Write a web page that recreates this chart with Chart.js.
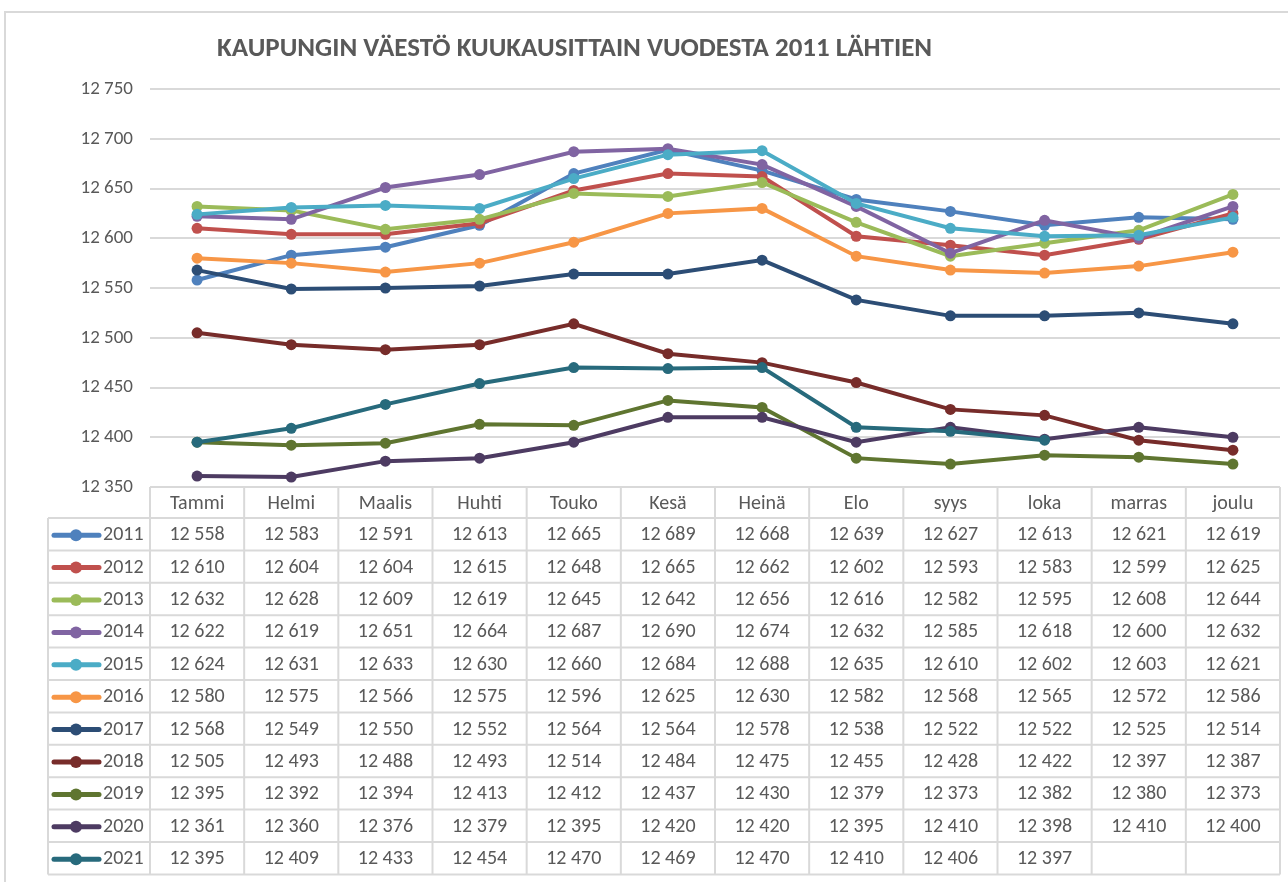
<!DOCTYPE html>
<html>
<head>
<meta charset="utf-8">
<script src="https://cdn.jsdelivr.net/npm/chart.js@4.4.1/dist/chart.umd.min.js"></script>
<style>
  html, body { margin: 0; padding: 0; background: #fff; }
  #wrap { width: 1288px; height: 882px; position: relative; }
</style>
</head>
<body>
<div id="wrap"><canvas id="myChart" width="1288" height="882"></canvas></div>
<script>
const months = ['Tammi', 'Helmi', 'Maalis', 'Huhti', 'Touko', 'Kesä', 'Heinä', 'Elo', 'syys', 'loka', 'marras', 'joulu'];
const years = ['2011', '2012', '2013', '2014', '2015', '2016', '2017', '2018', '2019', '2020', '2021'];
const y2011 = [12558, 12583, 12591, 12613, 12665, 12689, 12668, 12639, 12627, 12613, 12621, 12619];
const y2012 = [12610, 12604, 12604, 12615, 12648, 12665, 12662, 12602, 12593, 12583, 12599, 12625];
const y2013 = [12632, 12628, 12609, 12619, 12645, 12642, 12656, 12616, 12582, 12595, 12608, 12644];
const y2014 = [12622, 12619, 12651, 12664, 12687, 12690, 12674, 12632, 12585, 12618, 12600, 12632];
const y2015 = [12624, 12631, 12633, 12630, 12660, 12684, 12688, 12635, 12610, 12602, 12603, 12621];
const y2016 = [12580, 12575, 12566, 12575, 12596, 12625, 12630, 12582, 12568, 12565, 12572, 12586];
const y2017 = [12568, 12549, 12550, 12552, 12564, 12564, 12578, 12538, 12522, 12522, 12525, 12514];
const y2018 = [12505, 12493, 12488, 12493, 12514, 12484, 12475, 12455, 12428, 12422, 12397, 12387];
const y2019 = [12395, 12392, 12394, 12413, 12412, 12437, 12430, 12379, 12373, 12382, 12380, 12373];
const y2020 = [12361, 12360, 12376, 12379, 12395, 12420, 12420, 12395, 12410, 12398, 12410, 12400];
const y2021 = [12395, 12409, 12433, 12454, 12470, 12469, 12470, 12410, 12406, 12397, null, null];
const yTicks = [12350, 12400, 12450, 12500, 12550, 12600, 12650, 12700, 12750];
const title = 'KAUPUNGIN VÄESTÖ KUUKAUSITTAIN VUODESTA 2011 LÄHTIEN';

const series = [y2011, y2012, y2013, y2014, y2015, y2016, y2017, y2018, y2019, y2020, y2021];
const colors = ['#4F81BD', '#C0504D', '#9BBB59', '#8064A2', '#4BACC6', '#F79646',
                '#2C4D75', '#772C2A', '#5F7530', '#4D3B62', '#276A7C'];

const FONT = "'Carlito', 'Lato', 'Open Sans', sans-serif";
const TXT = '#595959';
const GRID = '#d9d9d9';

function fmt(v) {
    return String(v).replace(/\B(?=(\d{3})+(?!\d))/g, ' ');
}

// kehys, otsikko ja datataulukko piirretään itse
const tablePlugin = {
    id: 'tablePlugin',
    beforeDraw(chart) {
        const ctx = chart.ctx;
        ctx.save();
        ctx.strokeStyle = GRID;
        ctx.lineWidth = 2;
        ctx.beginPath();
        ctx.moveTo(5, 890);
        ctx.lineTo(5, 12);
        ctx.lineTo(1295, 12);
        ctx.stroke();
        ctx.restore();
    },
    afterDraw(chart) {
        const ctx = chart.ctx;
        const x = chart.scales.x;
        const area = chart.chartArea;
        const colW = (area.right - area.left) / months.length;
        const top = area.bottom;
        const headH = 31;
        const rowH = 32.4;
        const legLeft = 48;
        const bottom = top + headH + rowH * years.length;

        ctx.save();
        ctx.fillStyle = TXT;
        ctx.font = 'bold 27px ' + FONT;
        ctx.textBaseline = 'middle';
        ctx.textAlign = 'left';
        ctx.fillText(title, 217, 49);

        // ruudukko
        ctx.strokeStyle = GRID;
        ctx.lineWidth = 2;
        ctx.beginPath();
        ctx.moveTo(area.left, top);
        ctx.lineTo(area.right, top);
        for (let r = 0; r <= years.length; r++) {
            const yy = top + headH + rowH * r;
            ctx.moveTo(legLeft, yy);
            ctx.lineTo(area.right, yy);
        }
        for (let c = 0; c <= months.length; c++) {
            const xx = area.left + colW * c;
            ctx.moveTo(xx, top);
            ctx.lineTo(xx, bottom);
        }
        ctx.moveTo(legLeft, top + headH);
        ctx.lineTo(legLeft, bottom);
        ctx.stroke();

        ctx.font = '20px ' + FONT;
        ctx.textAlign = 'center';
        ctx.fillStyle = TXT;
        months.forEach(function (m, i) {
            ctx.fillText(m, x.getPixelForValue(i), top + headH / 2 + 1);
        });

        series.forEach(function (data, r) {
            const cy = top + headH + rowH * r + rowH / 2 + 1;
            // selitteen merkki
            ctx.strokeStyle = colors[r];
            ctx.lineWidth = 5;
            ctx.lineCap = 'round';
            ctx.beginPath();
            ctx.moveTo(54, cy);
            ctx.lineTo(99, cy);
            ctx.stroke();
            ctx.fillStyle = colors[r];
            ctx.beginPath();
            ctx.arc(76, cy, 6, 0, Math.PI * 2);
            ctx.fill();
            ctx.fillStyle = TXT;
            ctx.textAlign = 'left';
            ctx.fillText(years[r], 103, cy);
            ctx.textAlign = 'center';
            data.forEach(function (v, i) {
                if (v !== null) {
                    ctx.fillText(fmt(v), x.getPixelForValue(i), cy);
                }
            });
        });
        ctx.restore();
    }
};

const ctx = document.getElementById('myChart');

new Chart(ctx, {
    type: 'line',
    data: {
        labels: months,
        datasets: series.map(function (data, i) {
            return {
                label: years[i],
                data: data,
                borderColor: colors[i],
                backgroundColor: colors[i],
                borderWidth: 4,
                pointRadius: 5.5,
                pointBorderWidth: 0,
                pointHoverRadius: 5.5,
                tension: 0,
                order: series.length - i
            };
        })
    },
    options: {
        responsive: false,
        animation: false,
        layout: {
            padding: { left: 0, top: 89, right: 8, bottom: 395 }
        },
        plugins: {
            legend: { display: false },
            title: { display: false },
            tooltip: { enabled: false }
        },
        scales: {
            x: {
                display: false,
                offset: true
            },
            y: {
                min: yTicks[0],
                max: yTicks[yTicks.length - 1],
                afterFit: function (scale) { scale.width = 150; },
                afterBuildTicks: function (scale) {
                    scale.ticks = yTicks.map(function (v) { return { value: v }; });
                },
                border: { display: false },
                grid: { color: GRID, lineWidth: 2, drawTicks: false },
                ticks: {
                    padding: 17,
                    color: TXT,
                    font: { family: FONT, size: 19 },
                    callback: function (v) { return fmt(v); }
                }
            }
        }
    },
    plugins: [tablePlugin]
});
</script>
</body>
</html>
